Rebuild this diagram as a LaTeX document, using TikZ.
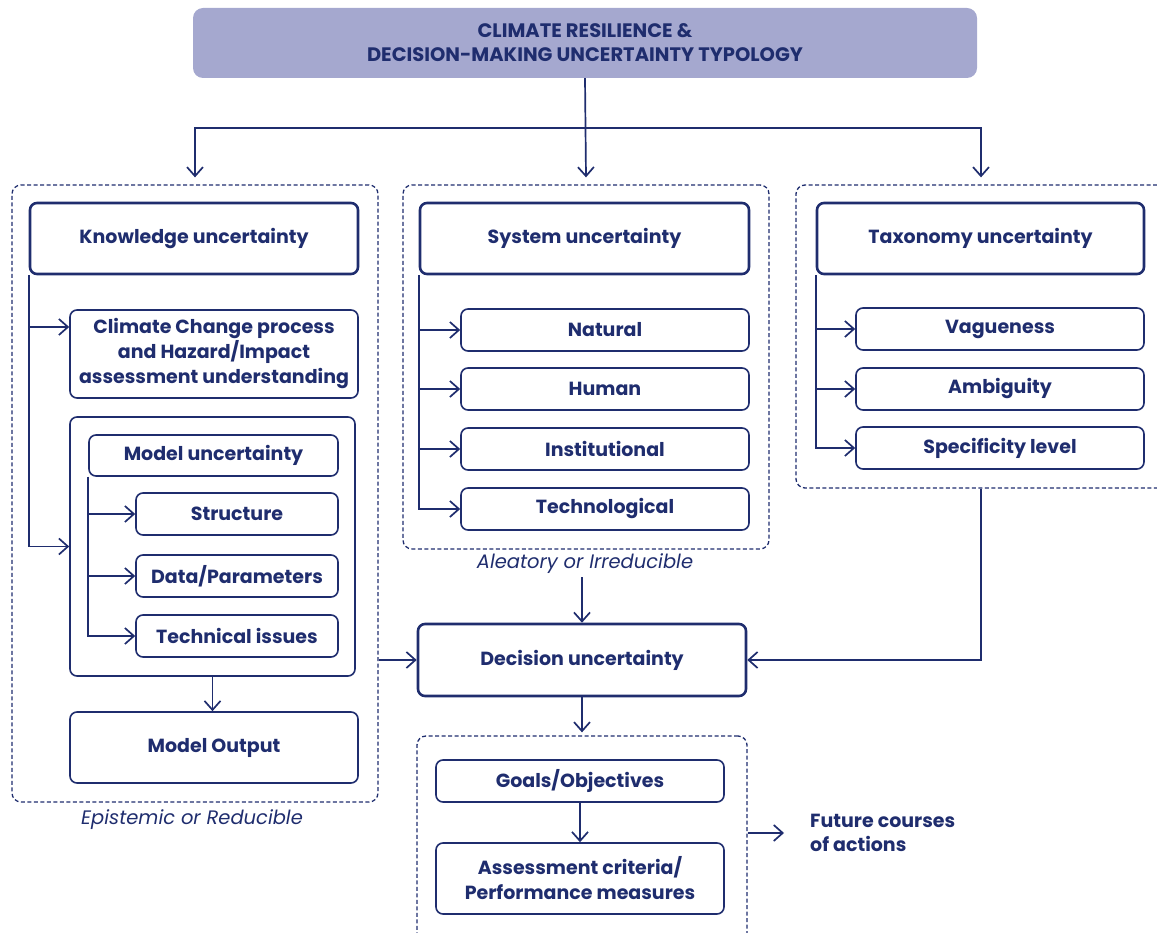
\documentclass[tikz,border=0pt]{standalone}
\usepackage{fontspec}
\setmainfont{Poppins}
\usetikzlibrary{arrows.meta}
\definecolor{navy}{HTML}{1F2D6E}
\definecolor{lavender}{HTML}{A5A8CF}
\tikzset{
  dims/.style 2 args={minimum width=#1pt, minimum height=#2pt},
  box/.style={draw=navy, line width=1.6pt, rounded corners=7pt, text=navy,
    font=\bfseries\fontsize{19}{25}\selectfont, align=center, inner sep=0pt},
  headbox/.style={box, line width=2.6pt},
  group/.style={draw=navy, line width=1.3pt, dash pattern=on 4pt off 2.5pt,
    rounded corners=9pt, inner sep=0pt},
  title/.style={fill=lavender, rounded corners=10pt, text=navy, align=center,
    font=\bfseries\fontsize{19.5}{24}\selectfont, inner sep=0pt},
  arr/.style={draw=navy, line width=1.7pt,
    -{Straight Barb[length=9pt,width=16pt,line width=1.7pt]}},
  note/.style={text=navy, font=\itshape\fontsize{19.5}{24}\selectfont},
}
\begin{document}
\begin{tikzpicture}[x=1pt,y=-1pt]
    \useasboundingbox (0,0) rectangle (1157,933);
    %% NOTE: dashed groups
    \node[group, dims={366}{617}] (knowgrp) at (195,493.5) {};
    \node[group, dims={366}{364}] (sysgrp) at (586,367) {};
    \node[group, dims={370}{303}] (taxgrp) at (981,336.5) {};
    \node[group, dims={330}{209}] (goalgrp) at (582,840.5) {};
    \node[box, dims={285}{259}] (modgrp) at (212.5,546.5) {};
    %% title
    \node[title, dims={784}{70}] (head) at (585,43)
        {CLIMATE RESILIENCE \&\\DECISION-MAKING UNCERTAINTY TYPOLOGY};
    %% knowledge branch
    \node[headbox, dims={328}{71}] (know) at (194,238.5) {Knowledge uncertainty};
    \node[box, dims={288}{88}] (clim) at (214,354)
        {Climate Change process\\and Hazard/Impact\\assessment understanding};
    \node[box, dims={249}{41}] (model) at (213.5,455.5) {Model uncertainty};
    \node[box, dims={202}{42}] (struct) at (237,514) {Structure};
    \node[box, dims={202}{42}] (data) at (237,576) {Data/Parameters};
    \node[box, dims={202}{42}] (tech) at (237,636) {Technical issues};
    \node[box, dims={288}{71}] (out) at (214,747.5) {Model Output};
    \node[note] at (192,820) {Epistemic or Reducible};
    %% system branch
    \node[headbox, dims={329}{71}] (sys) at (584.5,238.5) {System uncertainty};
    \node[box, dims={288}{42}] (natural) at (605,330) {Natural};
    \node[box, dims={288}{42}] (human) at (605,389) {Human};
    \node[box, dims={288}{42}] (inst) at (605,449) {Institutional};
    \node[box, dims={288}{42}] (techno) at (605,509) {Technological};
    \node[note] (alea) at (585,564) {Aleatory or Irreducible};
    %% taxonomy branch
    \node[headbox, dims={327}{71}] (tax) at (980.5,238.5) {Taxonomy uncertainty};
    \node[box, dims={288}{42}] (vague) at (1000,329) {Vagueness};
    \node[box, dims={288}{42}] (ambig) at (1000,389) {Ambiguity};
    \node[box, dims={288}{42}] (spec) at (1000,448) {Specificity level};
    %% decision
    \node[headbox, dims={328}{72}] (dec) at (582,660) {Decision uncertainty};
    \node[box, dims={288}{42}] (goals) at (580,781) {Goals/Objectives};
    \node[box, dims={288}{71}] (assess) at (580,878.5)
        {Assessment criteria/\\Performance measures};
    \node[anchor=west, inner sep=6pt, text=navy, align=left,
        font=\bfseries\fontsize{19}{24}\selectfont] (future) at (804,833)
        {Future courses\\of actions};
    %% arrows
    \draw[arr] (head.south) -- ([yshift=7pt]sysgrp.north);
    \draw[arr] (head.south) ++(0,50) -| ([yshift=7pt]knowgrp.north);
    \draw[arr] (head.south) ++(0,50) -| ([yshift=7pt]taxgrp.north);
    \draw[arr] (know.south west) |- ([yshift=27pt]clim.west);
    \draw[arr] (know.south west) |- (modgrp.west);
    \foreach \t in {struct,data,tech}
        \draw[arr] (model.south west) |- (\t.west);
    \draw[arr] (modgrp.south) -- (modgrp.south |- out.north);
    \foreach \t in {natural,human,inst,techno}
        \draw[arr] (sys.south west) |- (\t.west);
    \foreach \t in {vague,ambig,spec}
        \draw[arr] (tax.south west) |- (\t.west);
    \draw[arr] (alea.south -| dec.north) -- (dec.north);
    \draw[arr] (knowgrp.east |- dec.west) -- (dec.west);
    \draw[arr] (taxgrp.south) |- (dec.east);
    \draw[arr] (dec.south) -- ([yshift=3pt]goalgrp.north);
    \draw[arr] (goals.south) -- (assess.north);
    \draw[arr] (goalgrp.east |- future.west) -- ([xshift=-20pt]future.west);
\end{tikzpicture}
\end{document}
